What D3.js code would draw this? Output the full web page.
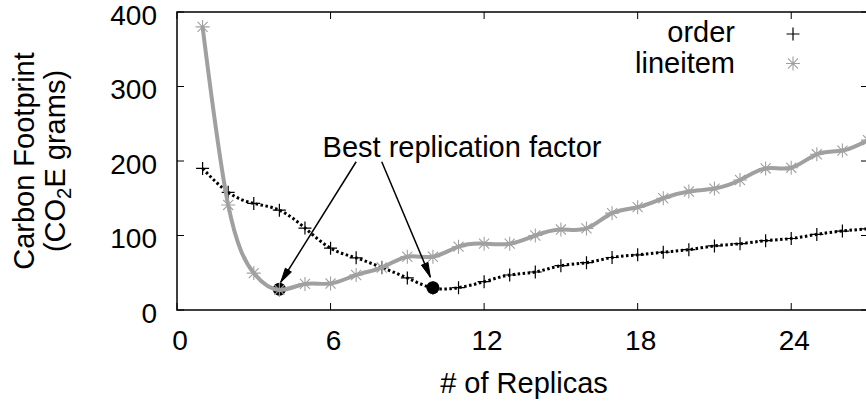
<!DOCTYPE html>
<html><head><meta charset="utf-8">
<script src="https://cdn.jsdelivr.net/npm/d3@7"></script>
<style>
html,body{margin:0;padding:0;background:#fff;}
svg{display:block;font-family:"Liberation Sans",Arial,Helvetica,sans-serif;}
</style></head>
<body>
<svg id="chart" width="866" height="406"></svg>
<script>
const replicas = [1,2,3,4,5,6,7,8,9,10,11,12,13,14,15,16,17,18,19,20,21,22,23,24,25,26,27];
const orderVals = [190,158,143,134,110,83,70,57,43,29.5,30,38,47,51,59.5,63.5,70.5,74,77.5,81,86,89,93,96,101.5,106,109];
const lineitemVals = [380,141,49.5,27,35,35.5,47,57,71.5,71.5,85,89,89,100,108,109.5,130,138,150,159,163,174.5,190,191,209,214,228];
const xTicks = [0,6,12,18,24];
const yTicks = [0,100,200,300,400];
const seriesNames = ["order","lineitem"];
const bestPoints = [{x:4, y:28},{x:10, y:30}];
const annotation = "Best replication factor";
const arrows = [{x1:7, y1:199, x2:4.05, y2:37},{x1:8, y1:199, x2:9.9, y2:44}];

const svg = d3.select("#chart");
const L = 177, R = 868, T = 12, B = 310;
const x = d3.scaleLinear().domain([0,27]).range([L,R]);
const y = d3.scaleLinear().domain([0,400]).range([B,T]);
const FS = 29;
const TFS = 28;
const gray = "#a0a0a0";

svg.append("defs").append("clipPath").attr("id","clip")
  .append("rect").attr("x",L).attr("y",T).attr("width",R-L).attr("height",B-T);

const tl = 7;
const g = svg.append("g");
xTicks.forEach(t=>{
  g.append("line").attr("x1",x(t)).attr("x2",x(t)).attr("y1",B).attr("y2",B-tl).attr("stroke","#000").attr("stroke-width",1);
  g.append("line").attr("x1",x(t)).attr("x2",x(t)).attr("y1",T).attr("y2",T+tl).attr("stroke","#000").attr("stroke-width",1);
  g.append("text").attr("x",x(t)+3).attr("y",350).attr("text-anchor","middle").attr("font-size",TFS).text(t);
});
yTicks.forEach(t=>{
  g.append("line").attr("x1",L).attr("x2",L+tl).attr("y1",y(t)).attr("y2",y(t)).attr("stroke","#000").attr("stroke-width",1);
  g.append("line").attr("x1",R).attr("x2",R-tl).attr("y1",y(t)).attr("y2",y(t)).attr("stroke","#000").attr("stroke-width",1);
  g.append("text").attr("x",157).attr("y",y(t)).attr("dy","0.46em").attr("text-anchor","end").attr("font-size",TFS).text(t);
});

const plot = svg.append("g").attr("clip-path","url(#clip)");
const orderData = replicas.map((r,i)=>({x:r,y:orderVals[i]}));
const liData = replicas.map((r,i)=>({x:r,y:lineitemVals[i]}));
const line = d3.line().x(d=>x(d.x)).y(d=>y(d.y)).curve(d3.curveNatural);

function plus(sel, cx, cy, s, color, w){
  sel.append("path").attr("d",`M${cx-s},${cy}H${cx+s}M${cx},${cy-s}V${cy+s}`).attr("stroke",color).attr("stroke-width",w).attr("fill","none");
}
function star(sel, cx, cy, s, color, w){
  const d = s*0.72;
  sel.append("path").attr("d",`M${cx-s},${cy}H${cx+s}M${cx},${cy-s}V${cy+s}M${cx-d},${cy-d}L${cx+d},${cy+d}M${cx-d},${cy+d}L${cx+d},${cy-d}`)
    .attr("stroke",color).attr("stroke-width",w).attr("fill","none");
}

plot.append("path").attr("d",line(orderData)).attr("fill","none").attr("stroke","#000")
  .attr("stroke-width",3).attr("stroke-dasharray","2.5,2.5");
orderData.forEach(d=>plus(plot, x(d.x), y(d.y), 6.5, "#000", 1.2));
bestPoints.forEach(p=>plot.append("circle").attr("cx",x(p.x)).attr("cy",y(p.y)).attr("r",6.5).attr("fill","#000"));
plot.append("path").attr("d",line(liData)).attr("fill","none").attr("stroke",gray).attr("stroke-width",4);
liData.forEach(d=>star(plot, x(d.x), y(d.y), 7, gray, 1.1));

svg.append("rect").attr("x",L).attr("y",T).attr("width",R-L).attr("height",B-T).attr("fill","none").attr("stroke","#000").attr("stroke-width",1.5);

svg.append("text").attr("x",462).attr("y",157).attr("text-anchor","middle").attr("font-size",FS).text(annotation);
arrows.forEach(a=>{
  const X1=x(a.x1),Y1=y(a.y1),X2=x(a.x2),Y2=y(a.y2);
  const ang = Math.atan2(Y2-Y1,X2-X1);
  const hl = 15, ha = 0.24;
  const p1 = [X2-hl*Math.cos(ang-ha), Y2-hl*Math.sin(ang-ha)];
  const p2 = [X2-hl*Math.cos(ang+ha), Y2-hl*Math.sin(ang+ha)];
  svg.append("line").attr("x1",X1).attr("y1",Y1).attr("x2",X2).attr("y2",Y2).attr("stroke","#000").attr("stroke-width",1.5);
  svg.append("path").attr("d",`M${p1[0]},${p1[1]}L${X2},${Y2}L${p2[0]},${p2[1]}Z`).attr("fill","#000").attr("stroke","#000").attr("stroke-width",1);
});

svg.append("text").attr("x",735).attr("y",42).attr("text-anchor","end").attr("font-size",FS).text(seriesNames[0]);
svg.append("text").attr("x",735).attr("y",73).attr("text-anchor","end").attr("font-size",FS).text(seriesNames[1]);
plus(svg, 793, 34, 6.5, "#000", 1.2);
star(svg, 793, 63.5, 7, gray, 1.1);

svg.append("text").attr("x",524).attr("y",393).attr("text-anchor","middle").attr("font-size",FS).text("# of Replicas");
const yt = svg.append("text").attr("transform","translate(34,161) rotate(-90)").attr("text-anchor","middle").attr("font-size",FS);
yt.text("Carbon Footprint");
const yt2 = svg.append("text").attr("transform","translate(65,161) rotate(-90)").attr("text-anchor","middle").attr("font-size",FS);
yt2.append("tspan").text("(CO");
yt2.append("tspan").attr("font-size",FS*0.7).attr("dy",6).text("2");
yt2.append("tspan").attr("dy",-6).text("E grams)");
</script>
</body></html>
